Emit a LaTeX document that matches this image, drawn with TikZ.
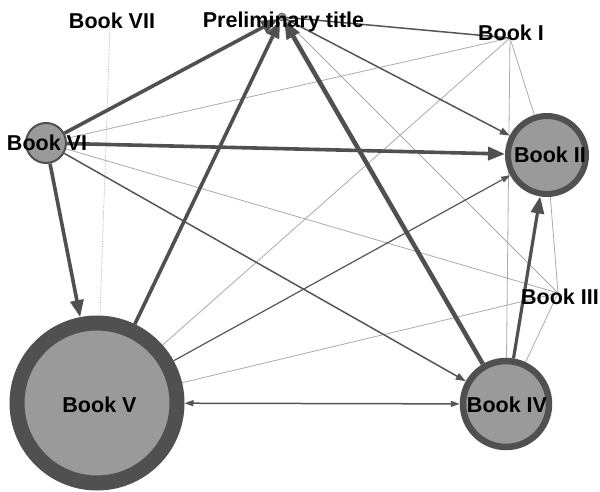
\documentclass[tikz,border=0pt]{standalone}
\usepackage{fontspec}
\setmainfont{Liberation Sans}
\usetikzlibrary{arrows.meta}
\definecolor{ring}{HTML}{505050}
\definecolor{fillg}{HTML}{9A9A9A}
\definecolor{thinc}{HTML}{ABABAB}
\definecolor{medc}{HTML}{555555}
\pgfdeclarelayer{bg}
\pgfsetlayers{bg,main}
\begin{document}
\begin{tikzpicture}[x=1pt,y=-1pt,
  bk/.style={circle,draw=ring,fill=fillg,inner sep=0pt},
  lbl/.style={font=\fontsize{21.5}{24}\selectfont\bfseries,inner sep=0pt,text=black,anchor=base},
  heavyE/.style={draw=ring,line width=3.6pt,-{Triangle[length=17pt,width=13pt]}},
  medE/.style={draw=medc,line width=1.5pt},
  medA/.style={medE,-{Triangle[length=10pt,width=7pt]}},
  thinE/.style={draw=thinc,line width=0.8pt},
  dotE/.style={draw=thinc,line width=0.7pt,densely dotted}
]
\useasboundingbox (0,0) rectangle (600,492);
% circle nodes
\node[bk,minimum size=160pt,line width=15pt] (b5) at (97,403) {};
\node[bk,minimum size=86pt,line width=6.5pt] (b4) at (506,404) {};
\node[bk,minimum size=78pt,line width=6pt] (b2) at (547,155) {};
\node[bk,minimum size=40pt,line width=2pt] (b6) at (46,143) {};
\node[bk,minimum size=8pt,line width=0.6pt] (pt) at (282,17) {};
\coordinate (b1) at (510,38);
\coordinate (b3) at (558,293);
\coordinate (b7) at (110,27);
% edges
\begin{pgfonlayer}{bg}
\fill[white] (0,0) rectangle (600,492);
\draw[dotE] (b7) -- (b5);
\draw[thinE] (b6) -- (b1);
\draw[thinE] (b6) -- (b3);
\draw[thinE] (b5) -- (b1);
\draw[thinE] (b5) -- (b3);
\draw[thinE] (pt) -- (b3);
\draw[thinE] (b1) -- (b2);
\draw[thinE] (b1) -- (b4);
\draw[thinE] (b2) -- (b3);
\draw[thinE] (b3) -- (b4);
\draw[medE] (pt) -- (b1);
\draw[medA] (pt) -- (b2);
\draw[medA] (b6) -- (b4);
\draw[medE,line width=1.2pt,-{Triangle[length=9pt,width=6pt]}] (b5) -- (b2);
\draw[medE,{Triangle[length=9pt,width=6pt]}-{Triangle[length=9pt,width=6pt]}] (b5) -- (b4);
\draw[heavyE] (b6) -- (pt);
\draw[heavyE] (b5) -- (pt);
\draw[heavyE,line width=4.5pt,-{Triangle[length=18pt,width=14pt]}] (b4) -- (pt);
\draw[heavyE] (b6) -- (b2);
\draw[heavyE] (b6) -- (b5);
\draw[heavyE,line width=3.2pt] (b4) -- (b2);
\end{pgfonlayer}
% labels
\node[lbl] (tpt) at (283.5,28) {Preliminary title};
\node[lbl] (t7) at (112,29) {Book VII};
\node[lbl] (t1) at (511,41) {Book I};
\node[lbl] (t6) at (47,151) {Book VI};
\node[lbl] (t2) at (550,163) {Book II};
\node[lbl] (t3) at (560,304) {Book III};
\node[lbl] (t4) at (507,412) {Book IV};
\node[lbl] (t5) at (99.5,412) {Book V};
\end{tikzpicture}
\end{document}
